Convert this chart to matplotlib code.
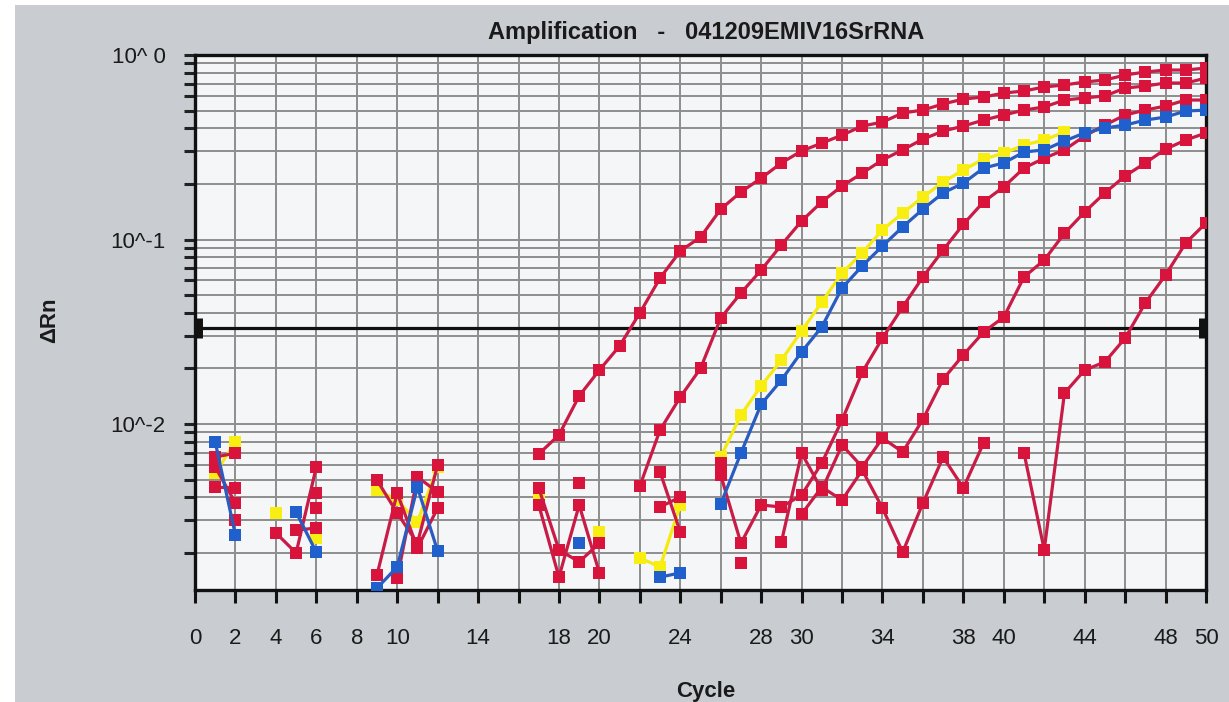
import numpy as np
import matplotlib
matplotlib.use('Agg')
import matplotlib.pyplot as plt
from matplotlib.ticker import FixedLocator, NullFormatter
from matplotlib.patches import Rectangle

plt.rcParams['font.family'] = ['Liberation Sans', 'DejaVu Sans']

nan = np.nan
cycles = np.arange(1, 51)

# delta Rn per cycle for each well (nan = not plotted)
red_a = [0.00662, 0.00696, nan, 0.00257, 0.00200, 0.00585, nan, nan, 0.00497, 0.00329,
         0.00226, 0.00600, nan, nan, nan, nan, 0.00688, 0.00872, 0.0142, 0.0196,
         0.0265, 0.0400, 0.0618, 0.0866, 0.103, 0.146, 0.181, 0.215, 0.260, 0.302,
         0.333, 0.368, 0.412, 0.433, 0.485, 0.503, 0.543, 0.577, 0.592, 0.622,
         0.638, 0.671, 0.688, 0.714, 0.732, 0.779, 0.809, 0.829, 0.829, 0.850]
red_b = [0.00585, 0.00373, nan, nan, 0.00266, 0.00273, nan, nan, 0.00152, 0.00423,
         0.00213, 0.00350, nan, nan, nan, nan, 0.00450, 0.00208, 0.00179, 0.00226,
         nan, 0.00461, 0.00928, 0.0140, 0.0200, 0.0375, 0.0513, 0.0683, 0.0934, 0.126,
         0.160, 0.195, 0.229, 0.270, 0.306, 0.350, 0.387, 0.412, 0.444, 0.473,
         0.503, 0.523, 0.570, 0.585, 0.600, 0.662, 0.679, 0.705, 0.705, 0.750]
red_c = [0.00455, 0.00450, nan, nan, nan, 0.00423, nan, nan, nan, 0.00146,
         0.00516, 0.00428, nan, nan, nan, nan, 0.00364, 0.00148, 0.00364, 0.00156,
         nan, nan, 0.00549, 0.00260, nan, 0.00529, 0.00226, 0.00364, 0.00355, 0.00412,
         0.00615, 0.0105, 0.0191, 0.0292, 0.0431, 0.0626, 0.0877, 0.121, 0.160, 0.193,
         0.244, 0.276, 0.306, 0.364, 0.417, 0.473, 0.503, 0.529, 0.570, 0.570]
red_d = [nan, 0.00302, nan, nan, nan, 0.00350, nan, nan, nan, nan,
         nan, nan, nan, nan, nan, nan, nan, nan, 0.00479, nan,
         nan, nan, 0.00355, 0.00402, nan, nan, 0.00176, nan, 0.00229, 0.00696,
         0.00439, 0.00769, 0.00585, 0.00839, 0.00705, 0.0106, 0.0175, 0.0237, 0.0315, 0.0380,
         0.0626, 0.0774, 0.108, 0.141, 0.179, 0.221, 0.260, 0.309, 0.346, 0.378]
red_e = [nan, nan, nan, nan, nan, nan, nan, nan, nan, nan,
         nan, nan, nan, nan, nan, nan, nan, nan, nan, nan,
         nan, nan, nan, nan, nan, 0.00615, nan, nan, nan, 0.00325,
         0.00455, 0.00387, 0.00563, 0.00350, 0.00202, 0.00373, 0.00662, 0.00450, 0.00789, nan,
         0.00696, 0.00208, 0.0147, 0.0196, 0.0217, 0.0292, 0.0453, 0.0642, 0.0958, 0.123]
yellow = [0.00542, 0.00799, nan, 0.00329, nan, 0.00241, nan, nan, 0.00439, 0.00387,
          0.00294, 0.00585, nan, nan, nan, nan, 0.00402, nan, nan, 0.00260,
          nan, 0.00188, 0.00168, 0.00364, nan, 0.00662, 0.0112, 0.0161, 0.0222, 0.0319,
          0.0458, 0.0658, 0.0845, 0.113, 0.139, 0.170, 0.205, 0.238, 0.273, 0.294,
          0.325, 0.346, 0.382, nan, nan, nan, nan, nan, nan, nan]
blue = [0.00799, 0.00250, nan, nan, 0.00333, 0.00202, nan, nan, 0.00129, 0.00168,
        0.00455, 0.00205, nan, nan, nan, nan, nan, nan, 0.00226, nan,
        nan, nan, 0.00148, 0.00156, nan, 0.00368, 0.00696, 0.0128, 0.0173, 0.0246,
        0.0336, 0.0546, 0.0719, 0.0922, 0.117, 0.146, 0.179, 0.202, 0.244, 0.260,
        0.298, 0.306, 0.342, 0.378, 0.402, 0.417, 0.444, 0.461, 0.497, 0.503]

threshold = 0.0332

x_labels = {0: '0', 2: '2', 4: '4', 6: '6', 8: '8', 10: '10', 14: '14', 18: '18',
            20: '20', 24: '24', 28: '28', 30: '30', 34: '34', 38: '38', 40: '40',
            44: '44', 48: '48', 50: '50'}
y_labels = {1.0: '10^ 0', 0.1: '10^-1', 0.01: '10^-2'}

W, H = 1229, 702
fig = plt.figure(figsize=(W / 100, H / 100), dpi=100, facecolor='white')
# scanned grey page
fig.patches.append(Rectangle((15 / W, 0), 1, 1 - 5 / H, transform=fig.transFigure,
                             facecolor='#c9cdd1', edgecolor='none', zorder=-10))

ax = fig.add_axes([195 / W, 112 / H, 1011 / W, 535 / H])
ax.set_facecolor('#f4f6f8')
ax.set_yscale('log')
ax.set_xlim(0, 50)
ax.set_ylim(0.00126, 1.0)

red_line = '#c81c46'
red_mark = '#d9143c'
kw = dict(marker='s', markersize=9, markeredgewidth=0, linewidth=2.3)

ax.plot(cycles, yellow, color='#f4ea10', markerfacecolor='#f8ee12', zorder=3, **kw)
for series in [red_e, red_d, red_c, red_b, red_a]:
    ax.plot(cycles, series, color=red_line, markerfacecolor=red_mark, zorder=4, **kw)
ax.plot(cycles, blue, color='#2a5cc0', markerfacecolor='#2060cc', zorder=5, **kw)

# threshold line with end handles
ax.axhline(threshold, color='#111111', lw=2.3, zorder=2)
ax.plot([0.18, 49.82], [threshold, threshold], ls='none', marker='|', markersize=15,
        markeredgewidth=5, color='#111111', clip_on=False, zorder=6)

# ticks and grid
ax.xaxis.set_major_locator(FixedLocator(range(0, 51, 2)))
ax.set_xticklabels([x_labels.get(v, '') for v in range(0, 51, 2)])
major_y = sorted(y_labels)
minor_y = [m * 10.0 ** e for e in (-3, -2, -1) for m in range(2, 10)]
ax.yaxis.set_major_locator(FixedLocator(major_y))
ax.set_yticklabels([y_labels[v] for v in major_y])
ax.yaxis.set_minor_locator(FixedLocator(minor_y))
ax.yaxis.set_minor_formatter(NullFormatter())

ax.tick_params(axis='x', which='major', direction='out', length=9, width=2.2,
               color='#111111', pad=18, labelsize=16, labelcolor='#1a1a1a')
ax.tick_params(axis='y', which='both', direction='out', length=8, width=2.2,
               color='#222222', pad=13, labelsize=16, labelcolor='#1a1a1a')
ax.tick_params(axis='x', which='minor', length=0)

ax.grid(True, axis='x', which='major', color='#8e8e8e', lw=1.4)
ax.grid(True, axis='y', which='both', color='#8e8e8e', lw=1.4)
ax.set_axisbelow(True)

for side in ['left', 'bottom', 'top', 'right']:
    ax.spines[side].set_color('#111111')
    ax.spines[side].set_linewidth(2.4)

fig.text(706 / W, 1 - 33 / H, 'Amplification   -   041209EMIV16SrRNA',
         ha='center', va='center', fontsize=17, fontweight='bold', color='#1a1a1a')
fig.text(50 / W, 1 - 320 / H, 'ΔRn', rotation=90, ha='center', va='center',
         fontsize=16, fontweight='bold', color='#1a1a1a')
fig.text(706 / W, 1 - 692 / H, 'Cycle', ha='center', va='center',
         fontsize=16, fontweight='bold', color='#1a1a1a')

fig.savefig('out.png', dpi=100, facecolor=fig.get_facecolor())
